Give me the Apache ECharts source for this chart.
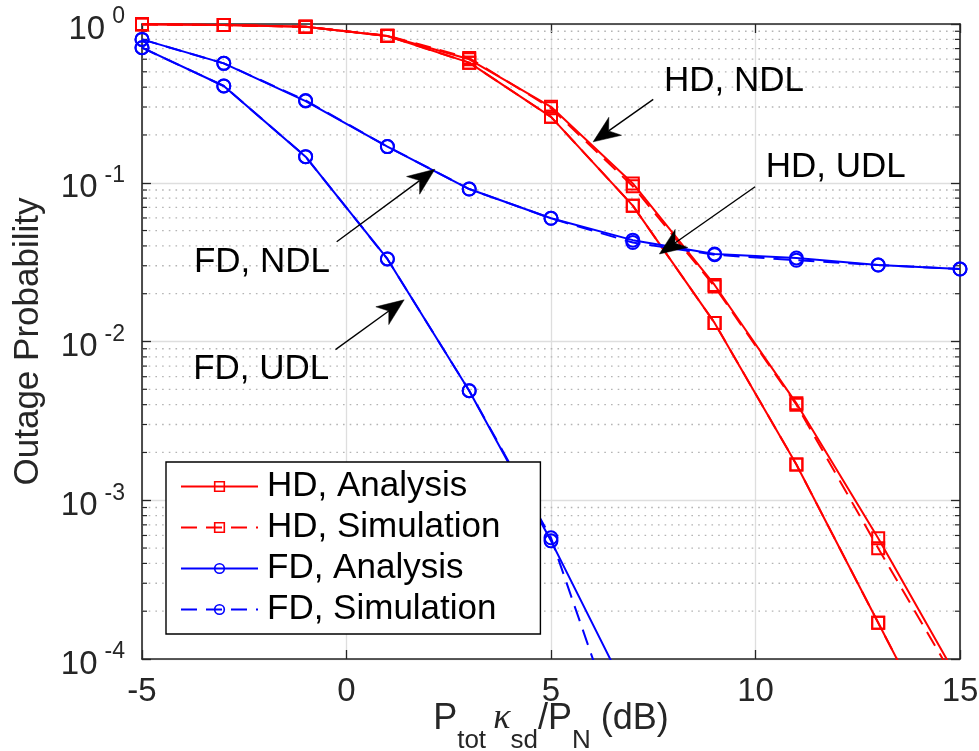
<!DOCTYPE html>
<html>
<head>
<meta charset="utf-8">
<title>Outage probability: HD vs FD</title>
<script src="https://cdn.jsdelivr.net/npm/echarts@6/dist/echarts.min.js"></script>
<style>
  html, body { margin: 0; padding: 0; background: #ffffff; }
  #chart { width: 979px; height: 751px; }
</style>
</head>
<body>
<div id="chart"></div>
<script>
// Transmit SNR grid (dB)
const snrDb = [-5, -3, -1, 1, 3, 5, 7, 9, 11, 13, 15];

// Half duplex, normal (NDL) and unit (UDL) cases
const hdNdlAnalysis   = [0.995, 0.985, 0.962, 0.840, 0.599, 0.301, 0.0990, 0.0227, 0.00408, 5.77e-4, 7.1e-5];
const hdNdlSimulation = [0.995, 0.985, 0.960, 0.845, 0.610, 0.295, 0.0950, 0.0222, 0.00400, 4.99e-4, 6.5e-5];
const hdUdlAnalysis   = [0.995, 0.985, 0.962, 0.840, 0.571, 0.260, 0.0717, 0.0131, 0.00168, 1.69e-4, 1.7e-5];
const hdUdlSimulation = [0.995, 0.985, 0.962, 0.840, 0.571, 0.260, 0.0717, 0.0131, 0.00168, 1.69e-4, 1.7e-5];

// Full duplex, NDL and UDL cases
const fdNdlAnalysis   = [0.800, 0.565, 0.327, 0.169, 0.0913, 0.0597, 0.0435, 0.0356, 0.0336, 0.0303, 0.0286];
const fdNdlSimulation = [0.800, 0.565, 0.330, 0.169, 0.0913, 0.0597, 0.0420, 0.0352, 0.0325, 0.0303, 0.0286];
const fdUdlAnalysis   = [0.709, 0.407, 0.146, 0.0331, 0.00490, 5.55e-4, 5.2e-5];
const fdUdlSimulation = [0.709, 0.407, 0.146, 0.0331, 0.00490, 5.80e-4, 1.87e-5];

// Axis ticks
const xTicks = [-5, 0, 5, 10, 15];
const yDecadeExponents = [-4, -3, -2, -1, 0];

// Legend entries
const legendNames = ['HD, Analysis', 'HD, Simulation', 'FD, Analysis', 'FD, Simulation'];

// Arrow annotations (data coordinates: [SNR dB, probability])
const noteTexts  = ['HD, NDL', 'HD, UDL', 'FD, NDL', 'FD, UDL'];
const noteAnchor = [[7.76, 0.433], [10.25, 0.1244], [-3.73, 0.0314], [-3.75, 0.00667]];
const arrowTail  = [[7.50, 0.335], [9.99, 0.0944], [-0.24, 0.0425], [-0.27, 0.00888]];
const arrowTip   = [[6.03, 0.181], [7.65, 0.0356], [2.16, 0.1215], [1.41, 0.0183]];

// Minor log ticks 2..9 within each decade
const yMinorTicks = [];
for (let e = yDecadeExponents[0]; e < yDecadeExponents[yDecadeExponents.length - 1]; e++) {
  for (let m = 2; m <= 9; m++) yMinorTicks.push(m * Math.pow(10, e));
}

const FONT = "'Liberation Sans', Arial, Helvetica, sans-serif";
const AXIS_COLOR = '#262626';
const RED = '#ff0000';
const BLUE = '#0000ff';
const DASH = [16, 9];

const pairs = (ys) => ys.map((v, i) => [snrDb[i], v]);

function curve(name, ys, color, symbol, dashed) {
  return {
    type: 'line',
    name: name,
    data: pairs(ys),
    symbol: symbol,
    symbolSize: symbol === 'rect' ? 12 : 13,
    showSymbol: true,
    clip: true,
    z: 3,
    lineStyle: { color: color, width: 2, type: dashed ? DASH : 'solid' },
    itemStyle: { color: 'rgba(255,255,255,0)', borderColor: color, borderWidth: 2 },
    emphasis: { disabled: true }
  };
}

// dotted minor grid plus inward minor ticks on both vertical axes
function renderMinor(params, api) {
  const y = api.coord([snrDb[0], api.value(1)])[1];
  const cs = params.coordSys;
  const x0 = cs.x, x1 = cs.x + cs.width;
  return {
    type: 'group',
    children: [
      { type: 'line', shape: { x1: x0, y1: y, x2: x1, y2: y },
        style: { stroke: '#b4b4b4', lineWidth: 1.3, lineDash: [1.6, 5.1] } },
      { type: 'line', shape: { x1: x0, y1: y, x2: x0 + 5, y2: y },
        style: { stroke: AXIS_COLOR, lineWidth: 1.2 } },
      { type: 'line', shape: { x1: x1 - 5, y1: y, x2: x1, y2: y },
        style: { stroke: AXIS_COLOR, lineWidth: 1.2 } }
    ]
  };
}

function renderArrow(params, api) {
  const a = api.coord([api.value(0), api.value(1)]);
  const b = api.coord([api.value(2), api.value(3)]);
  const dx = b[0] - a[0], dy = b[1] - a[1];
  const len = Math.hypot(dx, dy);
  const ux = dx / len, uy = dy / len, nx = -uy, ny = ux;
  const headLen = 27, headHalf = 11, notch = 19;
  const bx = b[0] - ux * headLen, by = b[1] - uy * headLen;
  const c1 = [bx + nx * headHalf, by + ny * headHalf];
  const c2 = [bx - nx * headHalf, by - ny * headHalf];
  const n = [b[0] - ux * notch, b[1] - uy * notch];
  return {
    type: 'group',
    children: [
      { type: 'line', shape: { x1: a[0], y1: a[1], x2: n[0], y2: n[1] },
        style: { stroke: '#000', lineWidth: 1.4 } },
      { type: 'polygon', shape: { points: [b, c1, n, c2] },
        style: { fill: '#000', stroke: '#000', lineWidth: 0.5 } }
    ]
  };
}

function renderNote(params, api) {
  const p = api.coord([api.value(0), api.value(1)]);
  return {
    type: 'text',
    x: p[0], y: p[1],
    style: {
      text: noteTexts[params.dataIndex],
      fill: '#000',
      font: '35px ' + FONT,
      textAlign: 'left', textVerticalAlign: 'middle',
      align: 'left', verticalAlign: 'middle'
    }
  };
}

const chart = echarts.init(document.getElementById('chart'), null, { renderer: 'canvas' });

const commonY = {
  type: 'log',
  logBase: 10,
  min: Math.pow(10, yDecadeExponents[0]),
  max: Math.pow(10, yDecadeExponents[yDecadeExponents.length - 1])
};
const commonX = {
  type: 'value',
  min: xTicks[0],
  max: xTicks[xTicks.length - 1],
  interval: xTicks[1] - xTicks[0]
};

chart.setOption({
  animation: false,
  backgroundColor: '#ffffff',
  grid: { left: 142, right: 19, top: 24, bottom: 92, containLabel: false, outerBoundsMode: 'none' },
  xAxis: [
    Object.assign({}, commonX, {
      position: 'bottom',
      axisLine: { show: true, onZero: false, lineStyle: { color: AXIS_COLOR, width: 1.6 } },
      axisTick: { show: true, inside: true, length: 9, lineStyle: { color: AXIS_COLOR, width: 1.3 } },
      axisLabel: { show: true, margin: 16, fontSize: 33, fontFamily: FONT, color: AXIS_COLOR },
      splitLine: { show: true, lineStyle: { color: '#dedede', width: 1.3 } },
      name: '{a|P}{s|tot }{k|κ}{s|sd}{a|/P}{s|N}{a| (dB)}',
      nameLocation: 'middle',
      nameGap: 42,
      nameMoveOverlap: false,
      nameTextStyle: {
        color: AXIS_COLOR,
        rich: {
          a: { fontSize: 36, lineHeight: 36, fontFamily: FONT, color: AXIS_COLOR },
          k: { fontSize: 36, lineHeight: 36, fontFamily: "'Liberation Serif', 'DejaVu Serif', serif", fontStyle: 'italic', color: AXIS_COLOR },
          s: { fontSize: 26, lineHeight: 26, padding: [44, 0, 0, 0], fontFamily: FONT, color: AXIS_COLOR }
        }
      }
    }),
    Object.assign({}, commonX, {
      position: 'top',
      axisLine: { show: true, onZero: false, lineStyle: { color: AXIS_COLOR, width: 1.6 } },
      axisTick: { show: true, inside: true, length: 9, lineStyle: { color: AXIS_COLOR, width: 1.3 } },
      axisLabel: { show: false },
      splitLine: { show: false }
    })
  ],
  yAxis: [
    Object.assign({}, commonY, {
      position: 'left',
      axisLine: { show: true, onZero: false, lineStyle: { color: AXIS_COLOR, width: 1.6 } },
      axisTick: { show: true, inside: true, length: 9, lineStyle: { color: AXIS_COLOR, width: 1.3 } },
      axisLabel: {
        show: true,
        margin: 17,
        formatter: (v) => {
          const e = Math.round(Math.log10(v));
          const k = yDecadeExponents.indexOf(e);
          return k < 0 ? '' : '{b|10}{e|' + yDecadeExponents[k] + '}';
        },
        rich: {
          b: { fontSize: 33, lineHeight: 33, padding: [11, 0, 0, 0], fontFamily: FONT, color: AXIS_COLOR },
          e: { fontSize: 23, lineHeight: 23, padding: [0, 0, 14, 7], fontFamily: FONT, color: AXIS_COLOR }
        }
      },
      splitLine: { show: true, lineStyle: { color: '#dedede', width: 1.3 } },
      name: 'Outage Probability',
      nameLocation: 'middle',
      nameRotate: 90,
      nameGap: 96,
      nameMoveOverlap: false,
      nameTextStyle: { fontSize: 35, fontFamily: FONT, color: AXIS_COLOR }
    }),
    Object.assign({}, commonY, {
      position: 'right',
      axisLine: { show: true, onZero: false, lineStyle: { color: AXIS_COLOR, width: 1.6 } },
      axisTick: { show: true, inside: true, length: 9, lineStyle: { color: AXIS_COLOR, width: 1.3 } },
      axisLabel: { show: false },
      splitLine: { show: false }
    })
  ],
  legend: {
    orient: 'vertical',
    left: 166,
    top: 462,
    data: legendNames,
    itemWidth: 77,
    itemHeight: 12,
    itemGap: 0,
    padding: [4, 40, 4, 14],
    backgroundColor: '#ffffff',
    borderColor: '#000000',
    borderWidth: 1.4,
    borderRadius: 0,
    selectedMode: false,
    itemStyle: { borderWidth: 1.6 },
    textStyle: { fontSize: 35, lineHeight: 41, fontFamily: FONT, color: '#000000', padding: [0, 0, 0, 4] },
    z: 10
  },
  series: [
    {
      type: 'custom',
      name: 'minor grid',
      renderItem: renderMinor,
      data: yMinorTicks.map((v) => [snrDb[0], v]),
      silent: true,
      z: 1
    },
    curve('HD, Analysis',   hdNdlAnalysis,   RED,  'rect',   false),
    curve('HD, Simulation', hdNdlSimulation, RED,  'rect',   true),
    curve('HD, Analysis',   hdUdlAnalysis,   RED,  'rect',   false),
    curve('HD, Simulation', hdUdlSimulation, RED,  'rect',   true),
    curve('FD, Analysis',   fdNdlAnalysis,   BLUE, 'circle', false),
    curve('FD, Simulation', fdNdlSimulation, BLUE, 'circle', true),
    curve('FD, Analysis',   fdUdlAnalysis,   BLUE, 'circle', false),
    curve('FD, Simulation', fdUdlSimulation, BLUE, 'circle', true),
    {
      type: 'custom',
      name: 'arrows',
      renderItem: renderArrow,
      data: arrowTail.map((t, i) => [t[0], t[1], arrowTip[i][0], arrowTip[i][1]]),
      encode: { x: [0, 2], y: [1, 3] },
      silent: true,
      z: 5
    },
    {
      type: 'custom',
      name: 'notes',
      renderItem: renderNote,
      data: noteAnchor.map((p) => [p[0], p[1]]),
      silent: true,
      z: 5
    }
  ]
});
</script>
</body>
</html>
